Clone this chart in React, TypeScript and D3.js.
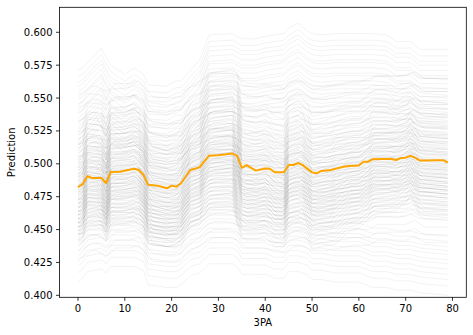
import React from "react";
import * as d3 from "d3";

// ICE curve profiles: 3PA breakpoints and change from the value at 3PA = 0
const knotsA = [0, 1, 2, 5, 6, 7, 10, 12, 14, 15, 19, 21, 22, 24, 26, 28, 33, 34, 35, 38, 40, 42, 44, 45, 47, 49, 50, 52, 55, 58, 60, 63, 66, 68, 71, 73, 79];
const shapeMean = [0, 0.0025, 0.0085, 0.0073, 0.0032, 0.0118, 0.0125, 0.0142, 0.0095, 0.002, -0.0006, 0.0006, 0.0032, 0.0133, 0.0155, 0.0242, 0.0258, 0.024, 0.015, 0.0128, 0.0144, 0.0116, 0.0116, 0.017, 0.0186, 0.014, 0.0115, 0.0126, 0.0143, 0.0164, 0.0167, 0.0215, 0.0217, 0.0209, 0.024, 0.0205, 0.019];
const shapeBig = [0, 0.004, 0.02, 0.018, 0.004, 0.024, 0.025, 0.028, 0.02, 0, -0.004, -0.002, 0.004, 0.022, 0.026, 0.045, 0.048, 0.044, 0.02, 0.017, 0.02, 0.012, 0.01, 0.026, 0.03, 0.022, 0.012, 0.014, 0.018, 0.022, 0.022, 0.032, 0.032, 0.03, 0.036, 0.03, 0.028];
const shapeTop = [0, 0.002, 0.006, 0.017, 0.01, 0.004, -0.003, 0.002, -0.003, -0.011, -0.012, -0.008, -0.008, 0, 0.008, 0.027, 0.028, 0.026, 0.024, 0.024, 0.026, 0.027, 0.028, 0.032, 0.036, 0.03, 0.028, 0.027, 0.028, 0.028, 0.028, 0.028, 0.027, 0.022, 0.022, 0.016, 0.016];
const shapeLow = [0, 0.003, 0.008, 0.01, 0.007, 0.012, 0.012, 0.012, 0.009, -0.002, -0.004, -0.004, -0.002, 0.005, 0.007, 0.014, 0.014, 0.012, 0.006, 0.006, 0.006, 0.003, 0.003, 0.008, 0.008, 0.006, 0.002, 0.002, 0, 0, 0, -0.004, -0.004, -0.006, -0.006, -0.008, -0.01];
const shapeRise = [0, 0.002, 0.01, 0.01, 0, 0.012, 0.012, 0.014, 0.006, -0.004, -0.006, -0.004, 0, 0.01, 0.012, 0.024, 0.024, 0.012, 0, 0, 0.002, -0.006, -0.006, 0.004, 0.006, 0, -0.008, -0.006, -0.004, 0.006, 0.008, 0.018, 0.02, 0.022, 0.032, 0.018, 0.016];

const knotsF = [0, 1, 3, 4, 6, 7, 8, 11, 13, 14, 16, 20, 22, 23, 25, 27, 29, 32, 34, 36, 39, 43, 44, 46, 48, 50, 53, 56, 59, 62, 64, 67, 70, 72, 74, 79];
const shapeFlat = [0, 0.001, 0.006, 0.006, 0.002, 0.004, 0.008, 0.008, 0.01, 0.006, -0.002, -0.003, -0.002, 0.003, 0.008, 0.012, 0.016, 0.016, 0.014, 0.008, 0.008, 0.006, 0.004, 0.009, 0.01, 0.006, 0.006, 0.008, 0.01, 0.01, 0.014, 0.014, 0.014, 0.017, 0.012, 0.012];

const knotsG = [0, 1, 2, 4, 6, 7, 9, 13, 14, 16, 20, 22, 23, 24, 26, 27, 29, 33, 34, 36, 40, 43, 44, 45, 47, 48, 49, 51, 54, 55, 57, 60, 62, 63, 66, 70, 71, 73, 79];
const shapeDip = [0, 0, 0.018, 0.02, 0.006, 0.022, 0.022, 0.024, 0.01, -0.002, -0.006, -0.006, 0.004, 0.014, 0.016, 0.03, 0.034, 0.036, 0.012, 0.008, 0.01, 0, 0, 0.02, 0.022, 0.024, 0.012, 0.008, 0.008, 0.014, 0.014, 0.016, 0.018, 0.026, 0.026, 0.028, 0.034, 0.024, 0.022];

// starting predictions (3PA = 0) of the individual curves, per profile
const levelsTop = [0.571, 0.566, 0.562, 0.559, 0.555, 0.551, 0.549, 0.545, 0.541, 0.539, 0.535, 0.532, 0.529, 0.526, 0.522, 0.519, 0.516, 0.512];
const levelsBig = [0.524, 0.518, 0.514, 0.511, 0.507, 0.503, 0.501, 0.498, 0.494, 0.492, 0.489, 0.487, 0.483, 0.481, 0.478, 0.474, 0.472, 0.469, 0.466, 0.463, 0.461, 0.458, 0.455, 0.452, 0.449];
const levelsMean = [0.545, 0.538, 0.531, 0.527, 0.522, 0.518, 0.514, 0.511, 0.508, 0.505, 0.502, 0.5, 0.497, 0.495, 0.492, 0.49, 0.488, 0.485, 0.483, 0.48, 0.478, 0.476, 0.473, 0.471, 0.468, 0.466, 0.463, 0.461, 0.458, 0.455, 0.452, 0.449, 0.446, 0.442, 0.438];
const levelsRise = [0.503, 0.497, 0.492, 0.487, 0.484, 0.48, 0.477, 0.473, 0.47, 0.467, 0.464, 0.461, 0.458, 0.455, 0.452, 0.449, 0.446, 0.443];
const levelsLow = [0.455, 0.451, 0.447, 0.444, 0.441, 0.437, 0.434, 0.43, 0.426, 0.422, 0.417, 0.41];
const levelsFlat = [0.553, 0.543, 0.533, 0.524, 0.515, 0.51, 0.505, 0.499, 0.495, 0.491, 0.487, 0.484, 0.48, 0.477, 0.473, 0.47, 0.467, 0.464, 0.461, 0.458, 0.455, 0.452, 0.449, 0.446, 0.44, 0.434, 0.428];
const levelsDip = [0.515, 0.506, 0.501, 0.497, 0.493, 0.49, 0.486, 0.483, 0.479, 0.476, 0.473, 0.47, 0.467, 0.464, 0.461, 0.458, 0.455, 0.452, 0.447, 0.442];

// average curve (orange)
const meanX = [0, 1, 2, 3, 5, 6, 7, 9, 12, 13, 14, 15, 17, 19, 20, 21, 22, 24, 25, 26, 28, 30, 33, 34, 35, 36, 38, 40, 41, 42, 44, 45, 46, 47, 48, 50, 51, 52, 54, 55, 57, 58, 60, 61, 62, 63, 65, 67, 68, 69, 70, 71, 72, 73, 75, 76, 78, 79];
const meanY = [0.4822, 0.4845, 0.4905, 0.4893, 0.4893, 0.4852, 0.4938, 0.494, 0.4962, 0.4953, 0.4915, 0.484, 0.4834, 0.4814, 0.4834, 0.4826, 0.4852, 0.4953, 0.4962, 0.4975, 0.5062, 0.5065, 0.5078, 0.506, 0.497, 0.499, 0.4948, 0.4964, 0.4962, 0.4936, 0.4936, 0.499, 0.499, 0.5006, 0.499, 0.4935, 0.4928, 0.4946, 0.4953, 0.4963, 0.4979, 0.4984, 0.4987, 0.5016, 0.5016, 0.5035, 0.5037, 0.5037, 0.5029, 0.5045, 0.5047, 0.506, 0.5047, 0.5025, 0.5025, 0.5028, 0.5028, 0.501];

const xTicks = [0, 10, 20, 30, 40, 50, 60, 70, 80];
const yTicks = [0.4, 0.425, 0.45, 0.475, 0.5, 0.525, 0.55, 0.575, 0.6];

const W = 473;
const H = 335;
const left = 59.5;
const right = 466.3;
const top = 7.3;
const bottom = 297.3;

const font = "DejaVu Sans, sans-serif";

export default function App() {
  const x = d3.scaleLinear().domain([-3.95, 82.95]).range([left, right]);
  const y = d3.scaleLinear().domain([0.3985, 0.619]).range([bottom, top]);
  const line = d3
    .line<[number, number]>()
    .x((d) => x(d[0]))
    .y((d) => y(d[1]));

  const groups: [number[], number[], number[]][] = [
    [levelsTop, knotsA, shapeTop],
    [levelsBig, knotsA, shapeBig],
    [levelsMean, knotsA, shapeMean],
    [levelsRise, knotsA, shapeRise],
    [levelsLow, knotsA, shapeLow],
    [levelsFlat, knotsF, shapeFlat],
    [levelsDip, knotsG, shapeDip],
  ];
  const curves: [number, number][][] = [];
  groups.forEach(([levels, knots, shape]) => {
    levels.forEach((lv) => {
      curves.push(knots.map((k, i) => [k, lv + shape[i]] as [number, number]));
    });
  });
  const meanPts = meanX.map((k, i) => [k, meanY[i]] as [number, number]);

  return (
    <svg
      width={W}
      height={H}
      style={{ position: "absolute", left: 0, top: 0, background: "#fff" }}
      fontFamily={font}
    >
      <defs>
        <clipPath id="plot">
          <rect x={left} y={top} width={right - left} height={bottom - top} />
        </clipPath>
      </defs>
      <g clipPath="url(#plot)">
        {curves.map((c, i) => (
          <path key={i} d={line(c) || ""} fill="none" stroke="#000" strokeOpacity={0.09} strokeWidth={0.6} />
        ))}
        <path d={line(meanPts) || ""} fill="none" stroke="#ffa500" strokeWidth={2} strokeLinejoin="round" />
      </g>
      <rect x={left} y={top} width={right - left} height={bottom - top} fill="none" stroke="#000" strokeWidth={0.8} />
      {xTicks.map((t) => (
        <g key={t} transform={`translate(${x(t)},${bottom})`}>
          <line y2={3.5} stroke="#000" strokeWidth={0.8} />
          <text y={15} textAnchor="middle" fontSize={10} fill="#000">
            {t}
          </text>
        </g>
      ))}
      {yTicks.map((t) => (
        <g key={t} transform={`translate(${left},${y(t)})`}>
          <line x2={-3.5} stroke="#000" strokeWidth={0.8} />
          <text x={-7} dy="0.35em" textAnchor="end" fontSize={10} fill="#000">
            {d3.format(".3f")(t)}
          </text>
        </g>
      ))}
      <text x={(left + right) / 2} y={326} textAnchor="middle" fontSize={10} fill="#000">
        3PA
      </text>
      <text transform={`translate(14.5,${(top + bottom) / 2}) rotate(-90)`} textAnchor="middle" fontSize={10} fill="#000">
        Prediction
      </text>
    </svg>
  );
}
